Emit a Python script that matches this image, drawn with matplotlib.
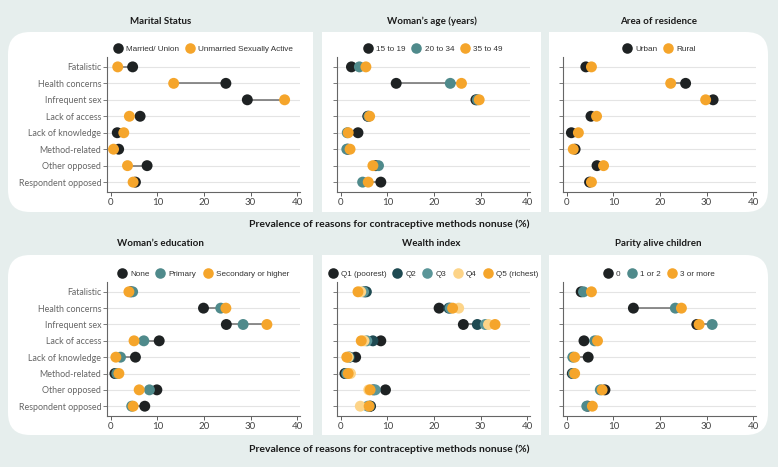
import matplotlib.pyplot as plt
import matplotlib.patches as mpatches
from matplotlib.lines import Line2D
import numpy as np

# ── data ────────────────────────────────────────────────
reasons = ["Fatalistic", "Health concerns", "Infrequent sex", "Lack of access",
           "Lack of knowledge", "Method-related", "Other opposed", "Respondent opposed"]

marital_groups = ["Married/ Union", "Unmarried Sexually Active"]
marital_married = [4.7, 24.7, 29.3, 6.3, 1.4, 1.7, 7.8, 5.3]
marital_unmarried = [1.5, 13.5, 37.3, 4.0, 2.8, 0.6, 3.6, 4.8]

age_groups = ["15 to 19", "20 to 34", "35 to 49"]
age_15_19 = [2.3, 11.9, 29.0, 5.8, 3.7, 1.5, 7.5, 8.6]
age_20_34 = [4.0, 23.5, 29.3, 6.0, 1.4, 1.3, 8.1, 4.7]
age_35_49 = [5.4, 25.9, 29.7, 6.2, 1.6, 2.0, 6.9, 5.9]

res_groups = ["Urban", "Rural"]
res_urban = [4.1, 25.5, 31.4, 5.2, 1.0, 1.8, 6.5, 4.9]
res_rural = [5.3, 22.3, 29.8, 6.4, 2.5, 1.4, 7.9, 5.3]

edu_groups = ["None", "Primary", "Secondary or higher"]
edu_none = [4.3, 19.9, 24.8, 10.4, 5.3, 0.9, 9.9, 7.3]
edu_primary = [4.7, 23.6, 28.4, 7.1, 2.1, 1.3, 8.3, 4.5]
edu_secondary = [3.9, 24.7, 33.5, 5.0, 1.1, 1.75, 6.1, 4.8]

wealth_groups = ["Q1 (poorest)", "Q2", "Q3", "Q4", "Q5 (richest)"]
wealth_q1 = [5.2, 21.1, 26.3, 8.6, 3.2, 0.9, 9.6, 6.4]
wealth_q2 = [5.5, 23.2, 29.3, 6.9, 1.9, 1.2, 7.0, 6.3]
wealth_q3 = [4.9, 23.5, 31.0, 5.6, 1.7, 1.3, 7.4, 5.8]
wealth_q4 = [4.3, 25.3, 31.7, 5.0, 1.6, 2.1, 6.0, 4.2]
wealth_q5 = [3.7, 24.0, 33.1, 4.4, 1.3, 1.6, 6.3, 6.1]

parity_groups = ["0", "1 or 2", "3 or more"]
parity_0 = [3.1, 14.3, 27.9, 3.7, 4.6, 1.2, 8.2, 4.5]
parity_1_2 = [3.6, 23.3, 31.2, 6.0, 1.3, 1.4, 7.2, 4.3]
parity_3 = [5.3, 24.6, 28.4, 6.6, 1.7, 1.7, 7.6, 5.5]

# ── style ───────────────────────────────────────────────
BG = "#e6eeed"
BLACK = "#1e2223"
TEAL = "#4f8a8b"
ORANGE = "#f5a52b"
DTEAL = "#1f4a52"
MTEAL = "#5a9598"
LYELLOW = "#fdd488"
LINE = "#6e6e6e"
LABEL_FONT = ["Lato", "DejaVu Sans"]
LEGEND_FONT = ["Liberation Sans", "DejaVu Sans"]

W, H = 778, 467
fig = plt.figure(figsize=(W / 100, H / 100), dpi=100, facecolor=BG)


def fx(px):
    return px / W


def fy(py):
    return 1 - py / H


def white_rect(x0, x1, y0, y1):
    fig.patches.append(mpatches.Rectangle(
        (fx(x0), fy(y1)), fx(x1 - x0), (y1 - y0) / H,
        transform=fig.transFigure, facecolor="white", edgecolor="none", zorder=-2))


def panel(x0, x1, y0, y1, round_left, round_right):
    r = 22
    if round_left or round_right:
        # rounded box in pixel units, then square off the other side
        box = mpatches.FancyBboxPatch(
            (x0, H - y1), x1 - x0, y1 - y0,
            boxstyle=mpatches.BoxStyle("Round", pad=0, rounding_size=r),
            transform=None, facecolor="white", edgecolor="none", zorder=-2)
        fig.patches.append(box)
    if not round_left:
        white_rect(x0, (x0 + x1) / 2, y0, y1)
    if not round_right:
        white_rect((x0 + x1) / 2, x1, y0, y1)


def dumbbell(ax, series, colors, names, show_labels):
    ypos = np.arange(len(reasons))
    arr = np.array(series)
    ax.hlines(ypos, arr.min(axis=0), arr.max(axis=0), color=LINE, lw=1.1, zorder=2)
    for vals, c in zip(series, colors):
        ax.scatter(vals, ypos, s=62, color=c, edgecolor="none", zorder=3)
    ax.set_xlim(-0.8, 40.6)
    ax.set_ylim(len(reasons) - 0.4, -0.6)
    ax.set_yticks(ypos)
    ax.set_xticks([0, 10, 20, 30, 40])
    ax.grid(axis="y", color="#e4e4e4", lw=0.8, zorder=0)
    ax.set_axisbelow(True)
    if show_labels:
        ax.set_yticklabels(reasons, fontsize=6.4, family=LABEL_FONT, color="#222222")
    else:
        ax.set_yticklabels([])
    for lab in ax.get_xticklabels():
        lab.set_family(LABEL_FONT)
    ax.tick_params(axis="x", labelsize=7.0, colors="#444444", length=3, width=0.6, pad=1.5)
    ax.tick_params(axis="y", colors="#666666", length=3, width=0.6, pad=1.2)
    ax.spines[["top", "right"]].set_visible(False)
    ax.spines[["left", "bottom"]].set_color("#666666")
    ax.spines[["left", "bottom"]].set_linewidth(0.8)
    ax.patch.set_alpha(0)
    handles = [Line2D([], [], marker="o", ls="", markersize=7.6, color=c, markeredgewidth=0)
               for c in colors]
    ax.legend(handles, names, loc="lower center", bbox_to_anchor=(0.5, 1.0),
              ncol=len(names), frameon=False, handlelength=0.9, handletextpad=0.55,
              columnspacing=0.9, borderaxespad=0.1,
              prop={"family": LEGEND_FONT, "size": 5.9}, labelcolor="#333333")


# white panels
for (y0, y1) in [(32, 212), (255, 435)]:
    panel(8, 313, y0, y1, True, False)
    panel(322, 541, y0, y1, False, False)
    panel(549, 768, y0, y1, False, True)

lefts = [107, 337, 563]
centers = [160.5, 431.5, 658.5]
rows = [
    (57, 192, 21, [
        ("Marital Status", [marital_married, marital_unmarried], [BLACK, ORANGE], marital_groups),
        ("Woman\u2019s age (years)", [age_15_19, age_20_34, age_35_49], [BLACK, TEAL, ORANGE], age_groups),
        ("Area of residence", [res_urban, res_rural], [BLACK, ORANGE], res_groups),
    ], 224),
    (282, 416, 244, [
        ("Woman\u2019s education", [edu_none, edu_primary, edu_secondary], [BLACK, TEAL, ORANGE], edu_groups),
        ("Wealth index", [wealth_q1, wealth_q2, wealth_q3, wealth_q4, wealth_q5],
         [BLACK, DTEAL, MTEAL, LYELLOW, ORANGE], wealth_groups),
        ("Parity alive children", [parity_0, parity_1_2, parity_3], [BLACK, TEAL, ORANGE], parity_groups),
    ], 449),
]

for top, bottom, title_y, panels, xlab_y in rows:
    for i, (title, series, colors, names) in enumerate(panels):
        ax = fig.add_axes([fx(lefts[i]), fy(bottom), 193 / W, (bottom - top) / H])
        dumbbell(ax, series, colors, names, i == 0)
        fig.text(fx(centers[i]), fy(title_y), title, ha="center", va="center",
                 fontsize=7.0, fontweight="bold", family=LABEL_FONT, color="#1a1a1a")
    fig.text(0.5, fy(xlab_y), "Prevalence of reasons for contraceptive methods nonuse (%)",
             ha="center", va="center", fontsize=7.5, fontweight="bold",
             family=LABEL_FONT, color="#1a1a1a")

fig.savefig("out.png", dpi=100, facecolor=BG)
